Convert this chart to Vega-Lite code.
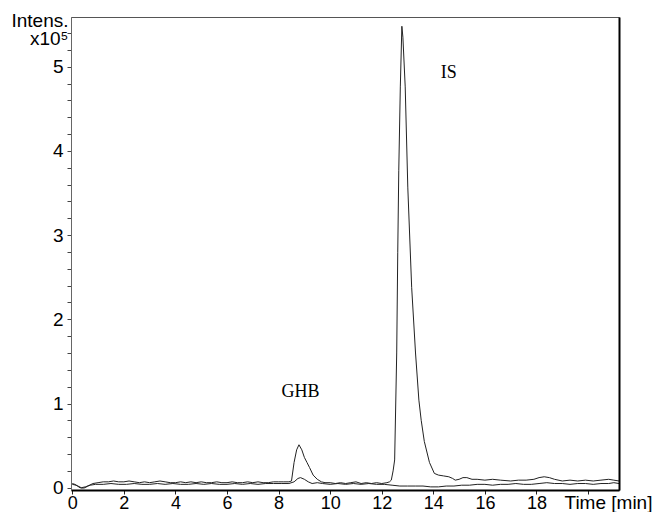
{
  "$schema": "https://vega.github.io/schema/vega-lite/v6.json",
  "width": 548,
  "height": 473,
  "autosize": {"type": "none"},
  "padding": {"left": 71, "top": 17, "right": 34, "bottom": 22},
  "background": "#ffffff",
  "config": {"view": {"stroke": "#555555", "strokeWidth": 1}, "font": "Liberation Sans"},
  "datasets": {
    "trace": [
      {"t":0,"v":0.05,"s":"A"},{"t":0.1,"v":0.04,"s":"A"},{"t":0.2,"v":0.02,"s":"A"},{"t":0.3,"v":0.0,"s":"A"},{"t":0.4,"v":-0.005,"s":"A"},{"t":0.5,"v":0.0,"s":"A"},{"t":0.6,"v":0.02,"s":"A"},{"t":0.8,"v":0.05,"s":"A"},{"t":1.0,"v":0.06,"s":"A"},{"t":1.2,"v":0.07,"s":"A"},{"t":1.4,"v":0.07,"s":"A"},{"t":1.6,"v":0.08,"s":"A"},{"t":1.8,"v":0.07,"s":"A"},{"t":2.0,"v":0.07,"s":"A"},{"t":2.2,"v":0.08,"s":"A"},{"t":2.4,"v":0.07,"s":"A"},{"t":2.6,"v":0.06,"s":"A"},{"t":2.8,"v":0.07,"s":"A"},{"t":3.0,"v":0.06,"s":"A"},{"t":3.2,"v":0.07,"s":"A"},{"t":3.4,"v":0.08,"s":"A"},{"t":3.6,"v":0.07,"s":"A"},{"t":3.8,"v":0.06,"s":"A"},{"t":4.0,"v":0.06,"s":"A"},{"t":4.2,"v":0.07,"s":"A"},{"t":4.4,"v":0.06,"s":"A"},{"t":4.6,"v":0.07,"s":"A"},{"t":4.8,"v":0.06,"s":"A"},{"t":5.0,"v":0.07,"s":"A"},{"t":5.2,"v":0.06,"s":"A"},{"t":5.4,"v":0.06,"s":"A"},{"t":5.6,"v":0.07,"s":"A"},{"t":5.8,"v":0.06,"s":"A"},{"t":6.0,"v":0.06,"s":"A"},{"t":6.2,"v":0.07,"s":"A"},{"t":6.4,"v":0.06,"s":"A"},{"t":6.6,"v":0.06,"s":"A"},{"t":6.8,"v":0.07,"s":"A"},{"t":7.0,"v":0.06,"s":"A"},{"t":7.2,"v":0.07,"s":"A"},{"t":7.4,"v":0.06,"s":"A"},{"t":7.6,"v":0.06,"s":"A"},{"t":7.8,"v":0.07,"s":"A"},{"t":8.0,"v":0.07,"s":"A"},{"t":8.2,"v":0.07,"s":"A"},{"t":8.4,"v":0.07,"s":"A"},{"t":8.5,"v":0.08,"s":"A"},{"t":8.6,"v":0.3,"s":"A"},{"t":8.7,"v":0.45,"s":"A"},{"t":8.79,"v":0.51,"s":"A"},{"t":8.9,"v":0.45,"s":"A"},{"t":9.0,"v":0.36,"s":"A"},{"t":9.1,"v":0.3,"s":"A"},{"t":9.2,"v":0.24,"s":"A"},{"t":9.34,"v":0.15,"s":"A"},{"t":9.5,"v":0.1,"s":"A"},{"t":9.66,"v":0.07,"s":"A"},{"t":9.8,"v":0.06,"s":"A"},{"t":10.0,"v":0.06,"s":"A"},{"t":10.2,"v":0.05,"s":"A"},{"t":10.4,"v":0.06,"s":"A"},{"t":10.6,"v":0.05,"s":"A"},{"t":10.8,"v":0.06,"s":"A"},{"t":11.0,"v":0.07,"s":"A"},{"t":11.2,"v":0.05,"s":"A"},{"t":11.4,"v":0.06,"s":"A"},{"t":11.6,"v":0.05,"s":"A"},{"t":11.8,"v":0.06,"s":"A"},{"t":12.0,"v":0.05,"s":"A"},{"t":12.2,"v":0.06,"s":"A"},{"t":12.3,"v":0.07,"s":"A"},{"t":12.37,"v":0.09,"s":"A"},{"t":12.44,"v":0.2,"s":"A"},{"t":12.5,"v":0.33,"s":"A"},{"t":12.58,"v":1.6,"s":"A"},{"t":12.62,"v":2.79,"s":"A"},{"t":12.66,"v":3.77,"s":"A"},{"t":12.72,"v":4.76,"s":"A"},{"t":12.78,"v":5.48,"s":"A"},{"t":12.82,"v":5.35,"s":"A"},{"t":12.91,"v":4.76,"s":"A"},{"t":13.01,"v":3.57,"s":"A"},{"t":13.16,"v":2.38,"s":"A"},{"t":13.31,"v":1.6,"s":"A"},{"t":13.44,"v":1.04,"s":"A"},{"t":13.53,"v":0.8,"s":"A"},{"t":13.65,"v":0.55,"s":"A"},{"t":13.85,"v":0.3,"s":"A"},{"t":14.04,"v":0.17,"s":"A"},{"t":14.2,"v":0.15,"s":"A"},{"t":14.4,"v":0.14,"s":"A"},{"t":14.6,"v":0.13,"s":"A"},{"t":14.75,"v":0.11,"s":"A"},{"t":14.85,"v":0.09,"s":"A"},{"t":15.0,"v":0.1,"s":"A"},{"t":15.15,"v":0.12,"s":"A"},{"t":15.3,"v":0.12,"s":"A"},{"t":15.5,"v":0.1,"s":"A"},{"t":15.7,"v":0.1,"s":"A"},{"t":16.0,"v":0.09,"s":"A"},{"t":16.3,"v":0.1,"s":"A"},{"t":16.6,"v":0.09,"s":"A"},{"t":17.0,"v":0.08,"s":"A"},{"t":17.3,"v":0.09,"s":"A"},{"t":17.6,"v":0.09,"s":"A"},{"t":17.9,"v":0.1,"s":"A"},{"t":18.1,"v":0.12,"s":"A"},{"t":18.3,"v":0.13,"s":"A"},{"t":18.5,"v":0.12,"s":"A"},{"t":18.7,"v":0.1,"s":"A"},{"t":19.0,"v":0.08,"s":"A"},{"t":19.3,"v":0.09,"s":"A"},{"t":19.6,"v":0.08,"s":"A"},{"t":19.9,"v":0.09,"s":"A"},{"t":20.2,"v":0.08,"s":"A"},{"t":20.5,"v":0.09,"s":"A"},{"t":20.8,"v":0.1,"s":"A"},{"t":21.0,"v":0.09,"s":"A"},{"t":21.2,"v":0.08,"s":"A"},
      {"t":0,"v":0.04,"s":"B"},{"t":0.15,"v":0.03,"s":"B"},{"t":0.35,"v":0.0,"s":"B"},{"t":0.5,"v":0.01,"s":"B"},{"t":0.7,"v":0.03,"s":"B"},{"t":0.9,"v":0.04,"s":"B"},{"t":1.2,"v":0.04,"s":"B"},{"t":1.5,"v":0.05,"s":"B"},{"t":1.8,"v":0.04,"s":"B"},{"t":2.1,"v":0.04,"s":"B"},{"t":2.4,"v":0.05,"s":"B"},{"t":2.7,"v":0.04,"s":"B"},{"t":3.0,"v":0.04,"s":"B"},{"t":3.3,"v":0.05,"s":"B"},{"t":3.6,"v":0.04,"s":"B"},{"t":3.9,"v":0.05,"s":"B"},{"t":4.2,"v":0.04,"s":"B"},{"t":4.5,"v":0.04,"s":"B"},{"t":4.8,"v":0.05,"s":"B"},{"t":5.1,"v":0.04,"s":"B"},{"t":5.4,"v":0.05,"s":"B"},{"t":5.7,"v":0.04,"s":"B"},{"t":6.0,"v":0.04,"s":"B"},{"t":6.3,"v":0.05,"s":"B"},{"t":6.6,"v":0.04,"s":"B"},{"t":6.9,"v":0.05,"s":"B"},{"t":7.2,"v":0.04,"s":"B"},{"t":7.5,"v":0.05,"s":"B"},{"t":7.8,"v":0.05,"s":"B"},{"t":8.1,"v":0.05,"s":"B"},{"t":8.4,"v":0.05,"s":"B"},{"t":8.6,"v":0.07,"s":"B"},{"t":8.75,"v":0.11,"s":"B"},{"t":8.85,"v":0.12,"s":"B"},{"t":9.0,"v":0.1,"s":"B"},{"t":9.15,"v":0.07,"s":"B"},{"t":9.3,"v":0.05,"s":"B"},{"t":9.5,"v":0.06,"s":"B"},{"t":9.7,"v":0.05,"s":"B"},{"t":10.0,"v":0.04,"s":"B"},{"t":10.3,"v":0.05,"s":"B"},{"t":10.6,"v":0.04,"s":"B"},{"t":10.9,"v":0.05,"s":"B"},{"t":11.2,"v":0.04,"s":"B"},{"t":11.5,"v":0.05,"s":"B"},{"t":11.8,"v":0.04,"s":"B"},{"t":12.1,"v":0.04,"s":"B"},{"t":12.4,"v":0.03,"s":"B"},{"t":12.7,"v":0.02,"s":"B"},{"t":13.0,"v":0.02,"s":"B"},{"t":13.3,"v":0.02,"s":"B"},{"t":13.6,"v":0.02,"s":"B"},{"t":13.9,"v":0.01,"s":"B"},{"t":14.2,"v":0.01,"s":"B"},{"t":14.5,"v":0.02,"s":"B"},{"t":14.8,"v":0.02,"s":"B"},{"t":15.1,"v":0.03,"s":"B"},{"t":15.4,"v":0.03,"s":"B"},{"t":15.7,"v":0.04,"s":"B"},{"t":16.0,"v":0.04,"s":"B"},{"t":16.3,"v":0.03,"s":"B"},{"t":16.6,"v":0.04,"s":"B"},{"t":16.9,"v":0.04,"s":"B"},{"t":17.2,"v":0.05,"s":"B"},{"t":17.5,"v":0.04,"s":"B"},{"t":17.8,"v":0.04,"s":"B"},{"t":18.1,"v":0.05,"s":"B"},{"t":18.4,"v":0.06,"s":"B"},{"t":18.7,"v":0.05,"s":"B"},{"t":19.0,"v":0.05,"s":"B"},{"t":19.3,"v":0.04,"s":"B"},{"t":19.6,"v":0.05,"s":"B"},{"t":19.9,"v":0.05,"s":"B"},{"t":20.2,"v":0.04,"s":"B"},{"t":20.5,"v":0.05,"s":"B"},{"t":20.8,"v":0.05,"s":"B"},{"t":21.0,"v":0.06,"s":"B"},{"t":21.2,"v":0.05,"s":"B"}
    ],
    "labels": [
      {"t": 8.85, "v": 1.08, "label": "GHB"},
      {"t": 14.6, "v": 4.86, "label": "IS"}
    ]
  },
  "layer": [
    {
      "data": {"name": "trace"},
      "mark": {"type": "line", "color": "#222222", "strokeWidth": 1, "clip": true},
      "encoding": {
        "x": {
          "field": "t", "type": "quantitative",
          "scale": {"domain": [-0.05, 21.2], "nice": false, "zero": false},
          "axis": {
            "values": [0,1,2,3,4,5,6,7,8,9,10,11,12,13,14,15,16,17,18,19,20,21],
            "labelExpr": "datum.value % 2 === 0 && datum.value <= 18 ? datum.label : ''",
            "ticks": true,
            "tickSize": 4,
            "tickWidth": 1,
            "tickColor": "#222222",
            "zindex": 2,
            "domainColor": "#000000",
            "domainWidth": 2,
            "grid": false,
            "labelFontSize": 18,
            "labelColor": "#000000",
            "labelPadding": 0,
            "labelFlush": false,
            "labelOverlap": false,
            "title": "Time [min]",
            "titleFontSize": 19,
            "titleFontWeight": "normal",
            "titleColor": "#000000",
            "titleAlign": "left",
            "titleBaseline": "alphabetic",
            "titleAnchor": "start",
            "titleX": 493,
            "titleY": 18
          }
        },
        "y": {
          "field": "v", "type": "quantitative",
          "scale": {"domain": [-0.027, 5.59], "nice": false, "zero": false},
          "axis": {
            "values": [0,0.2,0.4,0.6,0.8,1,1.2,1.4,1.6,1.8,2,2.2,2.4,2.6,2.8,3,3.2,3.4,3.6,3.8,4,4.2,4.4,4.6,4.8,5,5.2,5.4],
            "labelExpr": "abs(datum.value - round(datum.value)) < 0.001 ? format(round(datum.value), 'd') : ''",
            "ticks": true,
            "tickSize": 4,
            "tickWidth": 1,
            "tickColor": "#444444",
            "zindex": 2,
            "domainColor": "#666666",
            "domainWidth": 1,
            "grid": false,
            "labelFontSize": 19,
            "labelColor": "#000000",
            "labelPadding": 4,
            "labelFlush": false,
            "labelOverlap": false,
            "title": ["Intens.", "x10⁵ "],
            "titleFontSize": 19,
            "titleFontWeight": "normal",
            "titleColor": "#000000",
            "titleAngle": 0,
            "titleAlign": "right",
            "titleBaseline": "alphabetic",
            "titleLineHeight": 18,
            "titleX": -3,
            "titleY": 9
          }
        },
        "detail": {"field": "s"}
      }
    },
    {
      "data": {"name": "labels"},
      "mark": {"type": "text", "font": "Liberation Serif", "fontSize": 18, "color": "#000000", "baseline": "alphabetic", "align": "center"},
      "encoding": {
        "x": {"field": "t", "type": "quantitative", "scale": {"domain": [-0.05, 21.2], "nice": false, "zero": false}},
        "y": {
          "field": "v", "type": "quantitative",
          "scale": {"domain": [-0.027, 5.59], "nice": false, "zero": false},
          "axis": {"orient": "right", "labels": false, "ticks": false, "grid": false, "title": null, "domainColor": "#000000", "domainWidth": 2, "zindex": 2}
        },
        "text": {"field": "label"}
      }
    }
  ],
  "resolve": {"scale": {"y": "independent"}}
}
